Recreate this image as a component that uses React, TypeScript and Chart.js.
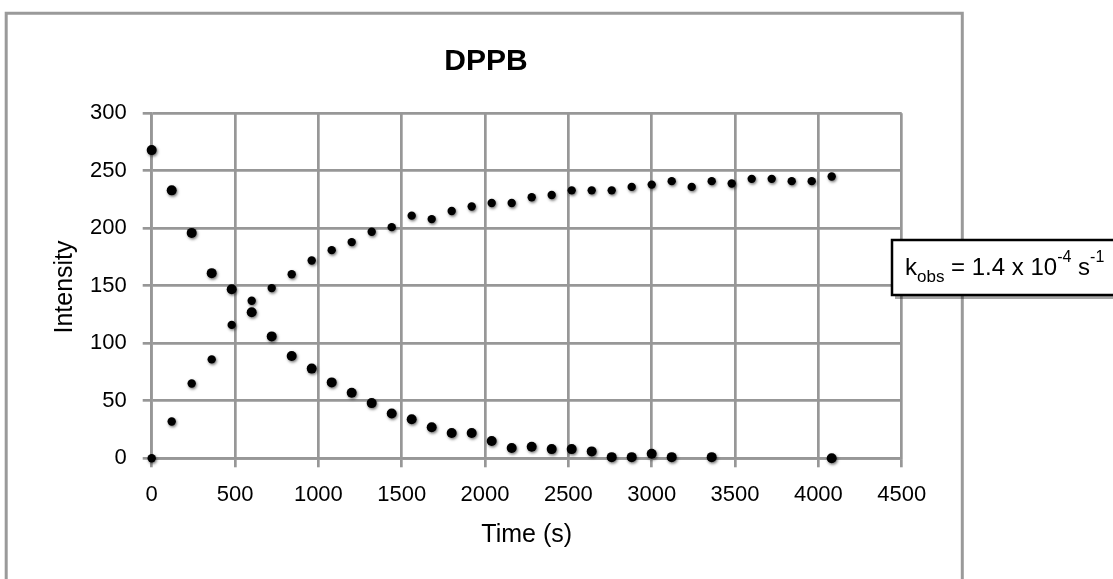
import { useEffect, useRef } from "react";
import { Chart, registerables } from "chart.js";

Chart.register(...registerables);

// Growth of product signal (s, intensity)
const growthTimes = [
  0, 120, 240, 360, 480, 600, 720, 840, 960, 1080, 1200, 1320, 1440, 1560, 1680,
  1800, 1920, 2040, 2160, 2280, 2400, 2520, 2640, 2760, 2880, 3000, 3120, 3240,
  3360, 3480, 3600, 3720, 3840, 3960, 4080,
];
const growthIntensity = [
  0, 32, 65, 86, 116, 137, 148, 160, 172, 181, 188, 197, 201, 211, 208, 215, 219,
  222, 222, 227, 229, 233, 233, 233, 236, 238, 241, 236, 241, 239, 243, 243, 241,
  241, 245,
];

// Decay of starting material signal (s, intensity)
const decayTimes = [
  0, 120, 240, 360, 480, 600, 720, 840, 960, 1080, 1200, 1320, 1440, 1560, 1680,
  1800, 1920, 2040, 2160, 2280, 2400, 2520, 2640, 2760, 2880, 3000, 3120, 3360,
  4080,
];
const decayIntensity = [
  268, 233, 196, 161, 147, 127, 106, 89, 78, 66, 57, 48, 39, 34, 27, 22, 22, 15, 9,
  10, 8, 8, 6, 1, 1, 4, 1, 1, 0,
];

const xTickValues = [0, 500, 1000, 1500, 2000, 2500, 3000, 3500, 4000, 4500];
const yTickValues = [0, 50, 100, 150, 200, 250, 300];

const chartTitle = "DPPB";
const xAxisTitle = "Time (s)";
const yAxisTitle = "Intensity";

const FONT = '"Liberation Sans", Arial, Helvetica, sans-serif';
const GRID = "#979797";

const decorations = {
  id: "decorations",
  beforeDraw(chart: any) {
    const { ctx, width, height } = chart;
    ctx.save();
    ctx.fillStyle = "#ffffff";
    ctx.fillRect(0, 0, width, height);
    // outer chart frame (open at the bottom)
    ctx.strokeStyle = "#9a9a9a";
    ctx.lineWidth = 3;
    ctx.beginPath();
    ctx.moveTo(6.2, height + 10);
    ctx.lineTo(6.2, 13.2);
    ctx.lineTo(962.3, 13.2);
    ctx.lineTo(962.3, height + 10);
    ctx.stroke();
    ctx.restore();
  },
  beforeDatasetsDraw(chart: any) {
    const { ctx } = chart;
    ctx.save();
    ctx.shadowColor = "rgba(0,0,0,0.55)";
    ctx.shadowBlur = 3;
    ctx.shadowOffsetX = 1;
    ctx.shadowOffsetY = 1.5;
  },
  afterDatasetsDraw(chart: any) {
    chart.ctx.restore();
  },
  afterDraw(chart: any) {
    const { ctx, chartArea } = chart;
    ctx.save();
    ctx.fillStyle = "#000";

    // chart title
    ctx.font = `bold 30px ${FONT}`;
    ctx.textAlign = "center";
    ctx.textBaseline = "alphabetic";
    ctx.fillText(chartTitle, 486, 70);

    // axis titles
    ctx.font = `25px ${FONT}`;
    ctx.textBaseline = "middle";
    ctx.fillText(xAxisTitle, (chartArea.left + chartArea.right) / 2, 535);
    ctx.save();
    ctx.translate(65, 287);
    ctx.rotate(-Math.PI / 2);
    ctx.fillText(yAxisTitle, 0, 0);
    ctx.restore();

    // rate constant text box
    const bx = 892;
    const by = 240;
    const bw = 260;
    const bh = 55;
    ctx.fillStyle = "rgba(0,0,0,0.35)";
    ctx.fillRect(bx + 3, by + 4, bw, bh);
    ctx.fillStyle = "#ffffff";
    ctx.fillRect(bx, by, bw, bh);
    ctx.strokeStyle = "#000";
    ctx.lineWidth = 2.5;
    ctx.strokeRect(bx, by, bw, bh);

    ctx.fillStyle = "#000";
    ctx.textAlign = "left";
    ctx.textBaseline = "alphabetic";
    const base = 275;
    const parts: [string, string, number][] = [
      ["k", `24px ${FONT}`, base],
      ["obs", `17px ${FONT}`, base + 7],
      [" = 1.4 x 10", `24px ${FONT}`, base],
      ["-4", `16px ${FONT}`, base - 13],
      [" s", `24px ${FONT}`, base],
      ["-1", `16px ${FONT}`, base - 13],
    ];
    let x = 905;
    for (const [text, font, y] of parts) {
      ctx.font = font;
      ctx.fillText(text, x, y);
      x += ctx.measureText(text).width;
    }
    ctx.restore();
  },
};

export default function App() {
  const canvasRef = useRef<HTMLCanvasElement | null>(null);

  useEffect(() => {
    document.body.style.margin = "0";
    const canvas = canvasRef.current;
    if (!canvas) return;

    const plainLabel = (value: any) => String(value);

    const chart = new Chart(canvas, {
      type: "scatter",
      data: {
        datasets: [
          {
            label: "decay",
            data: decayTimes.map((t, i) => ({ x: t, y: decayIntensity[i] })),
            backgroundColor: "#000",
            borderColor: "#000",
            borderWidth: 0,
            pointRadius: 5,
            clip: false,
          },
          {
            label: "growth",
            data: growthTimes.map((t, i) => ({ x: t, y: growthIntensity[i] })),
            backgroundColor: "#000",
            borderColor: "#000",
            borderWidth: 0,
            pointRadius: 4.2,
            clip: false,
          },
        ],
      },
      options: {
        animation: false,
        responsive: false,
        devicePixelRatio: 1,
        layout: { padding: { top: 113.3, right: 211.3, left: 0, bottom: 0 } },
        plugins: {
          legend: { display: false },
          tooltip: { enabled: false },
          title: { display: false },
        },
        scales: {
          x: {
            type: "linear",
            min: 0,
            max: 4500,
            afterFit: (scale: any) => {
              scale.height = 120.7;
            },
            afterBuildTicks: (scale: any) => {
              scale.ticks = xTickValues.map((v) => ({ value: v }));
            },
            grid: {
              color: GRID,
              lineWidth: 2.7,
              tickLength: 9,
              drawTicks: true,
            },
            border: { display: true, color: GRID, width: 2.7 },
            ticks: {
              color: "#000",
              font: { family: FONT, size: 22 },
              padding: 14,
              maxRotation: 0,
              autoSkip: false,
              callback: plainLabel,
            },
          },
          y: {
            type: "linear",
            min: 0,
            max: 300,
            afterFit: (scale: any) => {
              scale.width = 151.7;
            },
            afterBuildTicks: (scale: any) => {
              scale.ticks = yTickValues.map((v) => ({ value: v }));
            },
            grid: {
              color: GRID,
              lineWidth: 2.7,
              tickLength: 9,
              drawTicks: true,
            },
            border: { display: true, color: GRID, width: 2.7 },
            ticks: {
              color: "#000",
              font: { family: FONT, size: 22 },
              padding: 16,
              autoSkip: false,
              callback: plainLabel,
            },
          },
        },
      },
      plugins: [decorations],
    });

    return () => chart.destroy();
  }, []);

  return (
    <canvas
      ref={canvasRef}
      width={1113}
      height={579}
      style={{ display: "block", width: 1113, height: 579 }}
    />
  );
}
